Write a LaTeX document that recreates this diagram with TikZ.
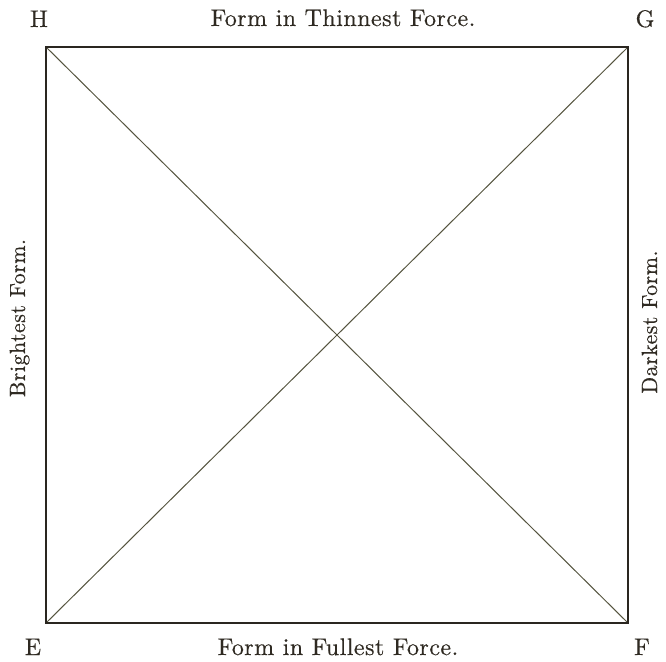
\documentclass[tikz,border=0pt]{standalone}
\usepackage{fontspec}
\newfontfamily\plate{lmroman10-regular.otf}[LetterSpace=2, FakeBold=0.4]
\newfontfamily\platecorner{lmroman10-regular.otf}[FakeBold=0.4]
\definecolor{ink}{HTML}{2F2A22}
\definecolor{edge}{HTML}{2A2620}
\definecolor{diag}{HTML}{55543F}
\begin{document}
\begin{tikzpicture}[x=1pt,y=-1pt,
  lbl/.style={inner sep=0pt, text=ink, anchor=base,
    font=\plate\fontsize{24}{26}\selectfont},
  sidelbl/.style={inner sep=0pt, text=ink, anchor=base, rotate=90,
    font=\plate\fontsize{22}{24}\selectfont},
  corner/.style={inner sep=0pt, text=ink, anchor=base,
    font=\platecorner\fontsize{24}{26}\selectfont},
  border/.style={draw=edge, line width=1.6pt, line join=miter},
  diagline/.style={draw=diag, line width=1pt}]
\useasboundingbox (0,0) rectangle (666,661);
\coordinate (h) at (46,47);
\coordinate (g) at (628,47);
\coordinate (f) at (628,623);
\coordinate (e) at (46,623);
\draw[diagline] (h) -- (f);
\draw[diagline] (g) -- (e);
\draw[border] (h) -- (g) -- (f) -- (e) -- cycle;
\node[corner] (lh) at (39,27) {H};
\node[corner] (lg) at (645,27) {G};
\node[corner] (le) at (33,655) {E};
\node[corner] (lf) at (642,655) {F};
\node[lbl] (top) at (343,26) {Form in Thinnest Force.};
\node[lbl] (bot) at (338,655) {Form in Fullest Force.};
\node[sidelbl] (left) at (25,318) {Brightest Form.};
\node[sidelbl] (right) at (657,322) {Darkest Form.};
\end{tikzpicture}
\end{document}
